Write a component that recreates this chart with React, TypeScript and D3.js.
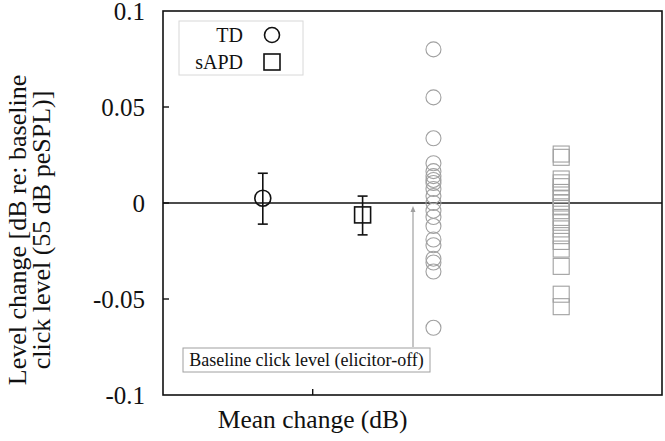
import { useEffect, useRef } from 'react';
import * as d3 from 'd3';

// group means with error bars
const groups = ['TD', 'sAPD'];
const groupMeans = [0.0025, -0.0062];
const groupUpper = [0.0155, 0.0036];
const groupLower = [-0.011, -0.0166];

// individual level changes (dB)
const tdValues = [
  0.08, 0.055, 0.0337, 0.0207, 0.0166, 0.014, 0.012, 0.0104, 0.0073, 0.0036,
  0.0, -0.004, -0.0073, -0.012, -0.019, -0.022, -0.029, -0.031, -0.0357, -0.065,
];
const sapdValues = [
  0.0255, 0.0238, 0.0125, 0.0105, 0.0085, 0.0055, 0.0025, 0.0, -0.002, -0.004,
  -0.0075, -0.01, -0.0135, -0.017, -0.02, -0.024, -0.033, -0.0475, -0.054,
];

const yTicks = [0.1, 0.05, 0, -0.05, -0.1];
const xTickLabel = 'Mean change (dB)';

const App = () => {
  const ref = useRef<SVGSVGElement>(null);

  useEffect(() => {
    const width = 665;
    const height = 441;
    const left = 163;
    const right = 662;
    const top = 11;
    const bottom = 395;
    const font = '"Liberation Serif", "DejaVu Serif", serif';
    const grey = '#a0a0a0';

    const svg = d3.select(ref.current);
    svg.selectAll('*').remove();
    svg.attr('width', width).attr('height', height);

    const x = d3.scaleLinear().domain([0, 5]).range([left, right]);
    const y = d3.scaleLinear().domain([-0.1, 0.1]).range([bottom, top]);

    // column positions on x
    const meanX = [1, 2];
    const tickX = 1.5;
    const tdX = 2.71;
    const sapdX = 3.99;

    // frame
    svg
      .append('rect')
      .attr('x', left)
      .attr('y', top)
      .attr('width', right - left)
      .attr('height', bottom - top)
      .attr('fill', 'none')
      .attr('stroke', '#111')
      .attr('stroke-width', 1.6);

    // y ticks (inward)
    const yAxis = svg.append('g');
    yTicks.forEach((t) => {
      if (t !== 0.1 && t !== -0.1) {
        yAxis
          .append('line')
          .attr('x1', left)
          .attr('x2', left + 6)
          .attr('y1', y(t))
          .attr('y2', y(t))
          .attr('stroke', '#111')
          .attr('stroke-width', 1.4);
      }
      yAxis
        .append('text')
        .attr('x', left - 18)
        .attr('y', y(t))
        .attr('dy', '0.35em')
        .attr('text-anchor', 'end')
        .attr('font-family', font)
        .attr('font-size', 25)
        .attr('fill', '#111')
        .text(t === 0 ? '0' : String(t));
    });

    // x tick
    svg
      .append('line')
      .attr('x1', x(tickX))
      .attr('x2', x(tickX))
      .attr('y1', bottom)
      .attr('y2', bottom - 6)
      .attr('stroke', '#111')
      .attr('stroke-width', 1.4);

    svg
      .append('text')
      .attr('x', x(tickX))
      .attr('y', 428)
      .attr('text-anchor', 'middle')
      .attr('font-family', font)
      .attr('font-size', 25.5)
      .attr('fill', '#111')
      .text(xTickLabel);

    // y label
    const yl = svg
      .append('text')
      .attr('transform', `translate(0, 230) rotate(-90)`)
      .attr('text-anchor', 'middle')
      .attr('font-family', font)
      .attr('font-size', 26)
      .attr('fill', '#111');
    yl.append('tspan').attr('x', 0).attr('y', 26).text('Level change [dB re: baseline');
    yl.append('tspan').attr('x', 0).attr('y', 50).text('click level (55 dB peSPL)]');

    // zero line
    svg
      .append('line')
      .attr('x1', left)
      .attr('x2', right)
      .attr('y1', y(0))
      .attr('y2', y(0))
      .attr('stroke', '#111')
      .attr('stroke-width', 1.6);

    // individual TD
    svg
      .append('g')
      .selectAll('circle')
      .data(tdValues)
      .join('circle')
      .attr('cx', x(tdX))
      .attr('cy', (d) => y(d))
      .attr('r', 7.5)
      .attr('fill', 'none')
      .attr('stroke', grey)
      .attr('stroke-width', 1.1);

    // individual sAPD
    svg
      .append('g')
      .selectAll('rect')
      .data(sapdValues)
      .join('rect')
      .attr('x', x(sapdX) - 8)
      .attr('y', (d) => y(d) - 8)
      .attr('width', 16)
      .attr('height', 16)
      .attr('fill', 'none')
      .attr('stroke', grey)
      .attr('stroke-width', 1.1);

    // error bars
    groups.forEach((g, i) => {
      const cx = x(meanX[i]);
      const eb = svg.append('g').attr('stroke', '#111').attr('stroke-width', 1.6);
      eb.append('line').attr('x1', cx).attr('x2', cx).attr('y1', y(groupUpper[i])).attr('y2', y(groupLower[i]));
      [groupUpper[i], groupLower[i]].forEach((v) => {
        eb.append('line').attr('x1', cx - 5).attr('x2', cx + 5).attr('y1', y(v)).attr('y2', y(v));
      });
      if (g === 'TD') {
        eb.append('circle').attr('cx', cx).attr('cy', y(groupMeans[i])).attr('r', 8).attr('fill', 'none');
      } else {
        eb.append('rect')
          .attr('x', cx - 8)
          .attr('y', y(groupMeans[i]) - 8)
          .attr('width', 16)
          .attr('height', 16)
          .attr('fill', 'none');
      }
    });

    // annotation
    const ax = 413;
    svg
      .append('line')
      .attr('x1', ax)
      .attr('x2', ax)
      .attr('y1', 347)
      .attr('y2', y(0) + 7)
      .attr('stroke', grey)
      .attr('stroke-width', 1.2);
    svg
      .append('path')
      .attr('d', `M${ax - 2.5},${y(0) + 9} L${ax},${y(0) + 3} L${ax + 2.5},${y(0) + 9} Z`)
      .attr('fill', grey);
    svg
      .append('rect')
      .attr('x', 183)
      .attr('y', 348)
      .attr('width', 247)
      .attr('height', 24)
      .attr('fill', '#fff')
      .attr('stroke', grey)
      .attr('stroke-width', 1);
    svg
      .append('text')
      .attr('x', 306.5)
      .attr('y', 366)
      .attr('text-anchor', 'middle')
      .attr('font-family', font)
      .attr('font-size', 18)
      .attr('fill', '#111')
      .text('Baseline click level (elicitor-off)');

    // legend
    const lg = svg.append('g');
    lg.append('rect')
      .attr('x', 179)
      .attr('y', 21)
      .attr('width', 124)
      .attr('height', 54)
      .attr('fill', '#fff')
      .attr('stroke', '#d8d8d8')
      .attr('stroke-width', 1);
    groups.forEach((g, i) => {
      const ly = 35 + i * 27;
      lg.append('text')
        .attr('x', 243)
        .attr('y', ly)
        .attr('dy', '0.35em')
        .attr('text-anchor', 'end')
        .attr('font-family', font)
        .attr('font-size', 20)
        .attr('fill', '#111')
        .text(g);
      if (i === 0) {
        lg.append('circle').attr('cx', 272).attr('cy', ly).attr('r', 7.5).attr('fill', 'none').attr('stroke', '#111').attr('stroke-width', 1.6);
      } else {
        lg.append('rect')
          .attr('x', 264)
          .attr('y', ly - 8)
          .attr('width', 16)
          .attr('height', 16)
          .attr('fill', 'none')
          .attr('stroke', '#111')
          .attr('stroke-width', 1.6);
      }
    });
  }, []);

  return (
    <svg ref={ref} style={{ position: 'absolute', left: 0, top: 0, background: '#fff' }} />
  );
};

export default App;
